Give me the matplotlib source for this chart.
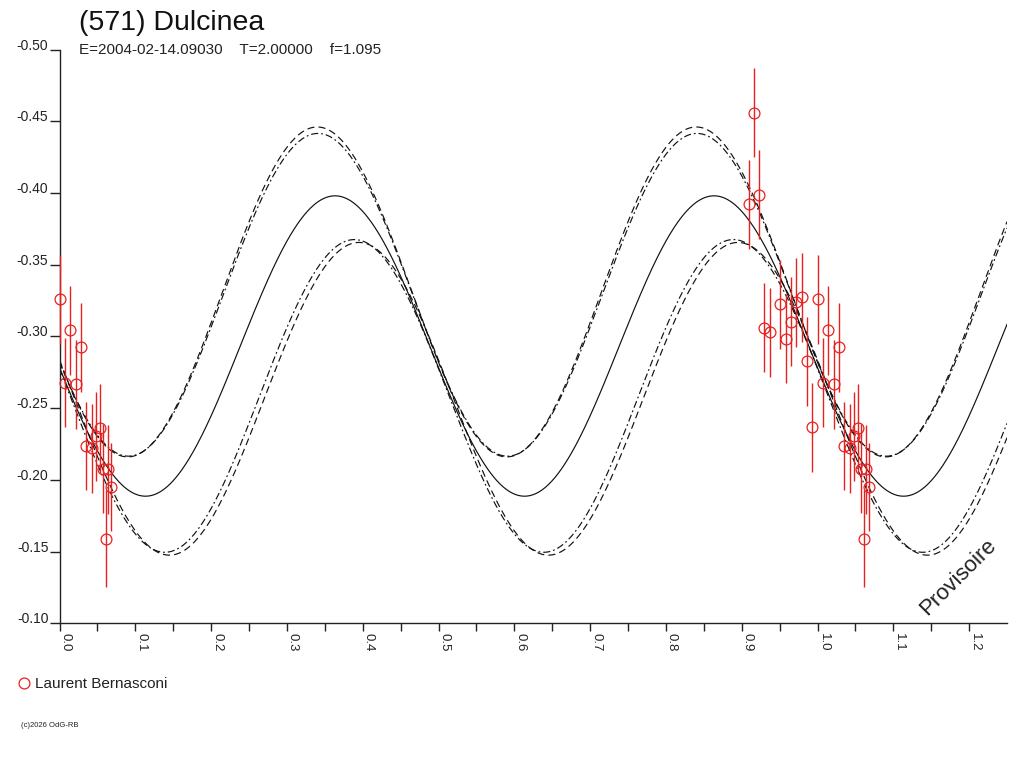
import numpy as np
import matplotlib
matplotlib.use("Agg")
import matplotlib.pyplot as plt

# ---------------- data ----------------
title = "(571) Dulcinea"
subtitle = "E=2004-02-14.09030    T=2.00000    f=1.095"
observer = "Laurent Bernasconi"
credit = "(c)2026 OdG-RB"
stamp = "Provisoire"

# observations (phase in [0,1), reduced magnitude, error)
obs_phase = [0.001, 0.0141, 0.0281, 0.007, 0.0216, 0.0352, 0.0426, 0.0484,
             0.0537, 0.0576, 0.0643, 0.0673, 0.0616,
             0.916, 0.9231, 0.9094, 0.9297, 0.9371, 0.9508, 0.9582, 0.9648,
             0.9714, 0.9793, 0.9859, 0.993]
obs_mag = [-0.3258, -0.3044, -0.2923, -0.2677, -0.2666, -0.2236, -0.2220, -0.2305,
           -0.2359, -0.2077, -0.2073, -0.1950, -0.1590,
           -0.4558, -0.3987, -0.3920, -0.3060, -0.3030, -0.3223, -0.2983, -0.3102,
           -0.3237, -0.3274, -0.2826, -0.2368]
obs_err = [0.031, 0.031, 0.031, 0.031, 0.031, 0.031, 0.031, 0.031,
           0.031, 0.031, 0.031, 0.031, 0.034,
           0.031, 0.031, 0.031, 0.031, 0.031, 0.031, 0.031, 0.031,
           0.031, 0.031, 0.031, 0.031]

# fitted curves (double-wave): peak phase, mean level, semi-amplitude
curve_peak = [0.3635, 0.340, 0.341, 0.395, 0.389]
curve_mean = [-0.2933, -0.331, -0.329, -0.2565, -0.2585]
curve_amp = [0.1047, 0.115, 0.1125, 0.109, 0.109]

x_ticks = [0.0, 0.1, 0.2, 0.3, 0.4, 0.5, 0.6, 0.7, 0.8, 0.9, 1.0, 1.1, 1.2]
x_tick_labels = ["0.0", "0.1", "0.2", "0.3", "0.4", "0.5", "0.6", "0.7",
                 "0.8", "0.9", "1.0", "1.1", "1.2"]
y_ticks = [-0.50, -0.45, -0.40, -0.35, -0.30, -0.25, -0.20, -0.15, -0.10]
y_tick_labels = ["-0.50", "-0.45", "-0.40", "-0.35", "-0.30", "-0.25",
                 "-0.20", "-0.15", "-0.10"]

# ---------------- figure ----------------
W, H = 1024, 768
fig = plt.figure(figsize=(W / 100, H / 100), dpi=100)
fig.patch.set_facecolor("white")
FONT = "Liberation Sans"
RED = "#e82020"

x0, x1 = 59.5, 1007.0
ytop, ybot = 49.5, 623.3
ax = fig.add_axes([x0 / W, 1 - ybot / H, (x1 - x0) / W, (ybot - ytop) / H])
ax.set_xlim(0, 1.25)
ax.set_ylim(-0.10, -0.50)

# curves
xs = np.linspace(0, 1.25, 1500)
styles = [dict(ls="-"),
          dict(ls=(0, (6, 3.5))),
          dict(ls=(0, (6, 2.5, 1.5, 2.5))),
          dict(ls=(0, (6, 3.5))),
          dict(ls=(0, (6, 2.5, 1.5, 2.5)))]
for p, m, a, st in zip(curve_peak, curve_mean, curve_amp, styles):
    ys = m - a * np.cos(4 * np.pi * (xs - p))
    ax.plot(xs, ys, color="#111111", lw=0.85, **st, zorder=2)

# observations, repeated one cycle later where still inside the window
ph = np.array(obs_phase)
mg = np.array(obs_mag)
er = np.array(obs_err)
rep = ph + 1.0 <= 1.25
px = np.concatenate([ph, ph[rep] + 1.0])
py = np.concatenate([mg, mg[rep]])
pe = np.concatenate([er, er[rep]])
ax.errorbar(px, py, yerr=pe, fmt="o", mfc="none", mec=RED,
            ecolor=RED, ms=7.8, mew=0.9, elinewidth=1.0, capsize=0,
            zorder=3, clip_on=False)

# axes styling
for s in ["top", "right"]:
    ax.spines[s].set_visible(False)
for s in ["left", "bottom"]:
    ax.spines[s].set_linewidth(1.0)
    ax.spines[s].set_color("#222222")

ax.set_xticks(x_ticks, x_tick_labels)
ax.set_xticks(np.arange(0.05, 1.25, 0.1), minor=True)
ax.set_yticks(y_ticks, y_tick_labels)
ax.tick_params(axis="x", which="both", direction="out", length=5.8, width=1.0,
               pad=1.5, labelsize=9.5, colors="#222222")
ax.tick_params(axis="y", which="major", direction="out", length=7.0, width=1.0,
               pad=1.0, labelsize=10, colors="#222222")
for lb in ax.get_xticklabels():
    lb.set_rotation(-90)
    lb.set_horizontalalignment("left")
    lb.set_verticalalignment("top")
    lb.set_fontfamily(FONT)
for lb in ax.get_yticklabels():
    lb.set_verticalalignment("baseline")
    lb.set_fontfamily(FONT)

# stamp
ax.text(1.185, -0.1323, stamp, rotation=45, ha="center", va="center",
        fontsize=16, family=FONT, color="#222222")

# texts in figure pixel coordinates
def ftext(x, y, s, **kw):
    fig.text(x / W, 1 - y / H, s, family=FONT, va="baseline", **kw)

ftext(79, 29.5, title, fontsize=20.5, color="#111111")
ftext(79, 53.5, subtitle, fontsize=11, color="#222222")
ftext(35.3, 688.3, observer, fontsize=11, color="#222222")
ftext(21, 727, credit, fontsize=5.5, color="#222222")
fig.add_artist(matplotlib.lines.Line2D([24 / W], [1 - 683.3 / H], marker="o",
                                       mfc="none", mec=RED, ms=7.8, mew=0.9))

fig.savefig("out.png", dpi=100, facecolor="white")
